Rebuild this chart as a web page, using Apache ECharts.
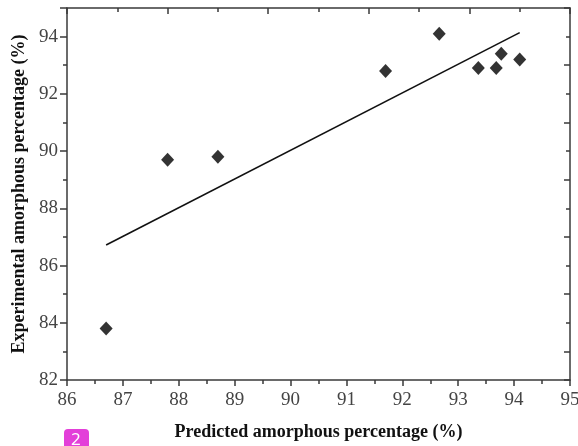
<!DOCTYPE html>
<html><head><meta charset="utf-8">
<script src="https://cdn.jsdelivr.net/npm/echarts@6/dist/echarts.min.js"></script>
<style>html,body{margin:0;padding:0;background:#fff}#c{width:578px;height:446px}</style>
</head><body><div id="c"></div>
<script>
const predicted = [86.7, 87.8, 88.7, 91.7, 92.66, 93.36, 93.68, 93.77, 94.1];
const experimental = [83.8, 89.7, 89.8, 92.8, 94.1, 92.9, 92.9, 93.4, 93.2];
const fitX = [86.7, 94.1];
const fitY = [86.72, 94.14];
const xTitle = 'Predicted amorphous percentage (%)';
const yTitle = 'Experimental amorphous percentage (%)';

const font = 'Liberation Serif';
const axisCol = '#3a3a3a';
const chart = echarts.init(document.getElementById('c'));
chart.setOption({
  backgroundColor: '#fff',
  animation: false,
  grid: {left: 67, right: 8, top: 8, bottom: 66, containLabel: false, outerBoundsMode: 'none'},
  xAxis: [{
    type: 'value', min: 86, max: 95, interval: 1, position: 'bottom',
    name: xTitle, nameLocation: 'middle', nameGap: 43,
    nameTextStyle: {fontFamily: font, fontWeight: 'bold', fontSize: 18, color: '#111'},
    axisLine: {onZero: false, lineStyle: {color: axisCol, width: 1.5}},
    axisTick: {length: 6, lineStyle: {color: axisCol, width: 1.5}},
    minorTick: {show: true, splitNumber: 2, length: 4, lineStyle: {color: axisCol, width: 1.5}},
    axisLabel: {fontFamily: font, fontSize: 19, color: '#444', margin: 11},
    splitLine: {show: false}
  }, {
    type: 'value', min: 0, max: 10, interval: 2, position: 'top',
    axisLine: {onZero: false, lineStyle: {color: axisCol, width: 1.5}},
    axisTick: {inside: true, length: 6, lineStyle: {color: axisCol, width: 1.5}},
    minorTick: {show: true, splitNumber: 2, length: 4, lineStyle: {color: axisCol, width: 1.5}},
    axisLabel: {show: false}, splitLine: {show: false}
  }],
  yAxis: [{
    type: 'value', min: 82, max: 95, interval: 2, position: 'left',
    name: yTitle, nameLocation: 'middle', nameGap: 39, nameRotate: 90,
    nameTextStyle: {fontFamily: font, fontWeight: 'bold', fontSize: 18, color: '#111'},
    axisLine: {onZero: false, lineStyle: {color: axisCol, width: 1.5}},
    axisTick: {length: 7, lineStyle: {color: axisCol, width: 1.5}},
    minorTick: {show: true, splitNumber: 2, length: 4, lineStyle: {color: axisCol, width: 1.5}},
    axisLabel: {fontFamily: font, fontSize: 19, color: '#444', margin: 9,
      formatter: v => v <= 94 ? String(v) : ''},
    splitLine: {show: false}
  }, {
    type: 'value', min: 0, max: 13, interval: 2, inverse: true, position: 'right',
    axisLine: {onZero: false, lineStyle: {color: axisCol, width: 1.5}},
    axisTick: {inside: true, length: 6, lineStyle: {color: axisCol, width: 1.5}},
    minorTick: {show: true, splitNumber: 2, length: 4, lineStyle: {color: axisCol, width: 1.5}},
    axisLabel: {show: false}, splitLine: {show: false}
  }],
  series: [{
    type: 'line',
    data: fitX.map((x, i) => [x, fitY[i]]),
    symbol: 'none',
    lineStyle: {color: '#111', width: 1.6}
  }, {
    type: 'scatter',
    data: predicted.map((x, i) => [x, experimental[i]]),
    symbol: 'diamond', symbolSize: [13, 14],
    itemStyle: {color: '#000'}
  }],
  graphic: [{
    type: 'rect', left: 64, top: 429, shape: {width: 25, height: 24, r: 4},
    style: {fill: '#e33fd9'}
  }, {
    type: 'text', left: 71, top: 432,
    style: {text: '2', fill: '#fff', font: '17px "Noto Sans"'}
  }]
});
</script></body></html>
